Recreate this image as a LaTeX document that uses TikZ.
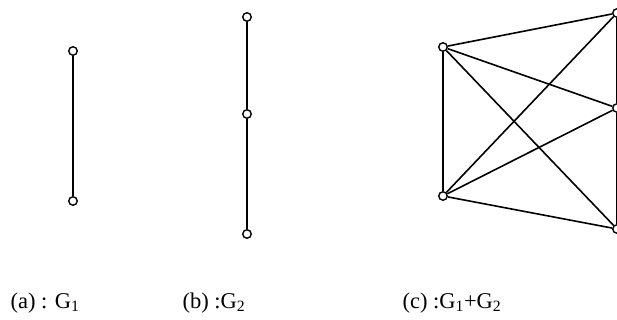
\documentclass[tikz,border=0pt]{standalone}
\usepackage{fontspec}
\setmainfont{Liberation Serif}
\usepackage{tikz}
\usetikzlibrary{positioning}

\begin{document}
\begin{tikzpicture}[
  x=1pt, y=-1pt,
  every node/.style={font=\fontsize{22.5}{27}\selectfont},
  vtx/.style={circle, draw, fill=white, line width=1.4pt, inner sep=0pt, minimum size=8.5pt},
  edge/.style={line width=1.6pt},
  caption/.style={anchor=base west}
]
  \useasboundingbox (0,0) rectangle (617,320);

  % G1
  \node[vtx] (ua) at (73,51) {};
  \node[vtx] (ub) at (73,201) {};
  \draw[edge] (ua) -- (ub);

  % G2
  \node[vtx] (va) at (247,17) {};
  \node[vtx] (vb) at (247,114) {};
  \node[vtx] (vc) at (247,234) {};
  \draw[edge] (va) -- (vb) -- (vc);

  % G1+G2
  \node[vtx] (pa) at (443,47) {};
  \node[vtx] (pb) at (443,196) {};
  \node[vtx] (qa) at (617,13) {};
  \node[vtx] (qb) at (617,108) {};
  \node[vtx] (qc) at (617,229) {};
  \draw[edge] (pa) -- (pb);
  \draw[edge] (qa) -- (qb) -- (qc);
  \foreach \p in {pa,pb}
    \foreach \q in {qa,qb,qc}
      \draw[edge] (\p) -- (\q);

  \node[caption] (capa) at (7,308) {(a) : G\textsubscript{1}};
  \node[caption] (capb) at (179,308) {(b) :G\textsubscript{2}};
  \node[caption] (capc) at (399,308) {(c) :G\textsubscript{1}+G\textsubscript{2}};
\end{tikzpicture}
\end{document}
